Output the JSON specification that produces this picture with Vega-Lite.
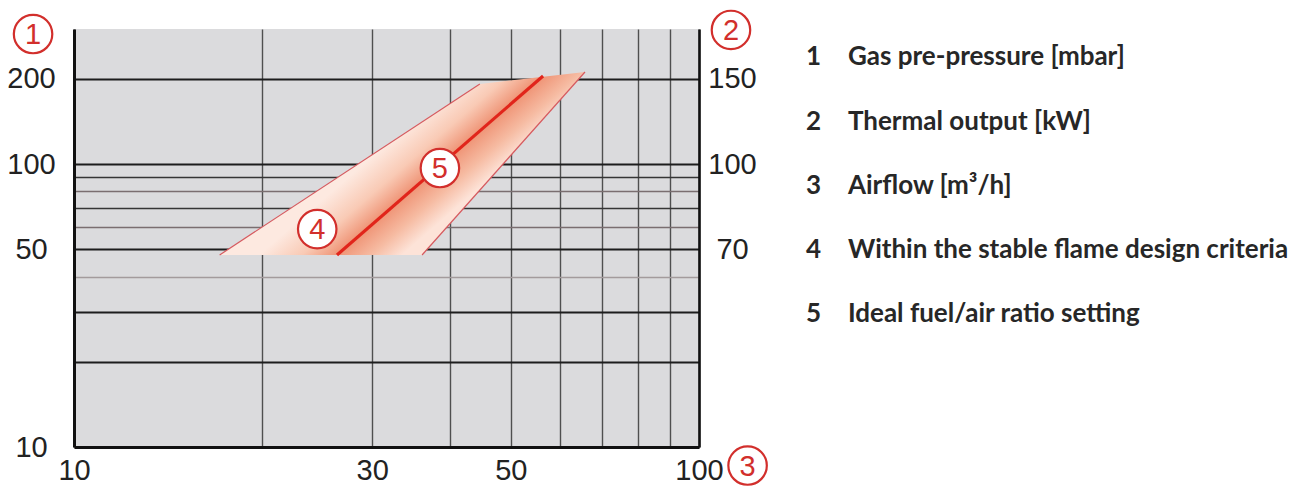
{
  "$schema": "https://vega.github.io/schema/vega-lite/v6.json",
  "width": 625,
  "height": 418,
  "autosize": {"type": "none"},
  "padding": {"left": 74, "top": 29, "right": 606, "bottom": 42},
  "background": "#ffffff",
  "config": {
    "view": {"fill": "#dbdbdd", "stroke": null},
    "axis": {
      "labelFont": "Liberation Sans",
      "labelFontSize": 29,
      "labelColor": "#222222",
      "ticks": false,
      "tickSize": 0,
      "domainColor": "#111111",
      "domainWidth": 3,
      "labelOverlap": false,
      "labelFlush": false
    }
  },
  "datasets": {
    "band": [
      {"side": "left", "airflow": 17.1, "pressure": 47.7, "ord": 1},
      {"side": "left", "airflow": 44.6, "pressure": 191.7, "ord": 2},
      {"side": "right", "airflow": 65.7, "pressure": 211.4, "ord": 3},
      {"side": "right", "airflow": 36.05, "pressure": 47.7, "ord": 4}
    ],
    "ideal": [
      {"airflow": 26.35, "pressure": 47.7},
      {"airflow": 56.3, "pressure": 204.6}
    ],
    "markers": [
      {"n": "1", "airflow": 8.6, "pressure": 288},
      {"n": "2", "airflow": 112.5, "pressure": 297.6},
      {"n": "3", "airflow": 119.6, "pressure": 8.6},
      {"n": "4", "airflow": 24.5, "pressure": 58.9},
      {"n": "5", "airflow": 38.5, "pressure": 96.8}
    ],
    "legend": [
      {"n": "1", "label": "Gas pre-pressure [mbar]", "pressure": 238.8},
      {"n": "2", "label": "Thermal output [kW]", "pressure": 140.8},
      {"n": "3", "label": "Airflow [m³/h]", "pressure": 83.6},
      {"n": "4", "label": "Within the stable flame design criteria", "pressure": 49.7},
      {"n": "5", "label": "Ideal fuel/air ratio setting", "pressure": 29.5}
    ]
  },
  "layer": [
    {
      "data": {"name": "band"},
      "mark": {
        "type": "line",
        "interpolate": "linear-closed",
        "stroke": "transparent",
        "strokeWidth": 0,
        "fill": {
          "gradient": "linear",
          "x1": 0.4429, "y1": 0.4187, "x2": 0.7369, "y2": 0.5885,
          "stops": [
            {"offset": 0, "color": "#fde9e0"},
            {"offset": 0.3, "color": "#f9cab5"},
            {"offset": 0.543, "color": "#ef9476"},
            {"offset": 0.78, "color": "#f6bba2"},
            {"offset": 1, "color": "#fde3d8"}
          ]
        }
      },
      "encoding": {
        "x": {
          "field": "airflow", "type": "quantitative", "title": null,
          "scale": {"type": "log", "domain": [10, 100], "nice": false},
          "axis": {
            "values": [10, 20, 30, 40, 50, 60, 70, 80, 90, 100],
            "grid": true,
            "gridColor": "#4f4f4f",
            "gridWidth": 1.4,
            "labelExpr": "indexof([10,30,50,100], datum.value) >= 0 ? datum.value + '' : ''",
            "labelPadding": 9,
            "labelBaseline": "top"
          }
        },
        "y": {
          "field": "pressure", "type": "quantitative", "title": null,
          "scale": {"type": "log", "domain": [10, 300], "nice": false},
          "axis": {
            "values": [10, 20, 30, 40, 50, 60, 70, 80, 90, 100, 200],
            "grid": true,
            "gridColor": {
              "condition": [
                {"test": "indexof([20,30,50,100,200], datum.value) >= 0", "value": "#1d1d1d"},
                {"test": "datum.value == 90 || datum.value == 70", "value": "#353535"},
                {"test": "datum.value == 40", "value": "#a39b9c"}
              ],
              "value": "#7a6e70"
            },
            "gridWidth": {
              "condition": {"test": "indexof([20,30,50,100,200], datum.value) >= 0", "value": 2.2},
              "value": 1.5
            },
            "labelExpr": "indexof([10,50,100,200], datum.value) >= 0 ? datum.value + '' : ''",
            "labelAlign": "center",
            "labelBaseline": "middle",
            "labelPadding": 43
          }
        },
        "order": {"field": "ord", "type": "quantitative"}
      }
    },
    {
      "data": {"name": "band"},
      "mark": {"type": "line", "color": "#d65a5f", "strokeWidth": 1.2},
      "encoding": {
        "x": {"field": "airflow", "type": "quantitative", "title": null, "scale": {"type": "log", "domain": [10, 100], "nice": false}},
        "y": {
          "field": "pressure", "type": "quantitative", "title": null,
          "scale": {"type": "log", "domain": [10, 300], "nice": false},
          "axis": {
            "orient": "right",
            "values": [50, 100, 200],
            "grid": false,
            "labelExpr": "datum.value == 200 ? '150' : datum.value == 100 ? '100' : '70'",
            "labelAlign": "center",
            "labelBaseline": "middle",
            "labelPadding": 33,
            "domainWidth": 2.6
          }
        },
        "detail": {"field": "side", "type": "nominal"},
        "order": {"field": "ord", "type": "quantitative"}
      }
    },
    {
      "data": {"name": "ideal"},
      "mark": {"type": "line", "color": "#e1251b", "strokeWidth": 3.2},
      "encoding": {
        "x": {"field": "airflow", "type": "quantitative", "title": null, "scale": {"type": "log", "domain": [10, 100], "nice": false}},
        "y": {"field": "pressure", "type": "quantitative", "title": null, "scale": {"type": "log", "domain": [10, 300], "nice": false}, "axis": null}
      }
    },
    {
      "data": {"name": "markers"},
      "mark": {"type": "point", "shape": "circle", "filled": true, "fill": "#ffffff", "stroke": "#d22f2c", "strokeWidth": 2.2, "size": 1480, "opacity": 1},
      "encoding": {
        "x": {"field": "airflow", "type": "quantitative", "title": null, "scale": {"type": "log", "domain": [10, 100], "nice": false}},
        "y": {"field": "pressure", "type": "quantitative", "title": null, "scale": {"type": "log", "domain": [10, 300], "nice": false}, "axis": null}
      }
    },
    {
      "data": {"name": "markers"},
      "mark": {"type": "text", "font": "Liberation Sans", "fontSize": 29, "color": "#d22f2c", "align": "center", "baseline": "middle", "dy": 1},
      "encoding": {
        "x": {"field": "airflow", "type": "quantitative", "title": null, "scale": {"type": "log", "domain": [10, 100], "nice": false}},
        "y": {"field": "pressure", "type": "quantitative", "title": null, "scale": {"type": "log", "domain": [10, 300], "nice": false}, "axis": null},
        "text": {"field": "n", "type": "nominal"}
      }
    },
    {
      "data": {"name": "legend"},
      "mark": {"type": "text", "font": "Lato", "fontWeight": "bold", "fontSize": 26, "color": "#272727", "align": "left", "baseline": "middle"},
      "encoding": {
        "x": {"datum": 148.3, "type": "quantitative", "scale": {"type": "log", "domain": [10, 100], "nice": false}},
        "y": {"field": "pressure", "type": "quantitative", "title": null, "scale": {"type": "log", "domain": [10, 300], "nice": false}, "axis": null},
        "text": {"field": "n", "type": "nominal"}
      }
    },
    {
      "data": {"name": "legend"},
      "mark": {"type": "text", "font": "Lato", "fontWeight": "bold", "fontSize": 26, "color": "#272727", "align": "left", "baseline": "middle"},
      "encoding": {
        "x": {"datum": 173.1, "type": "quantitative", "scale": {"type": "log", "domain": [10, 100], "nice": false}},
        "y": {"field": "pressure", "type": "quantitative", "title": null, "scale": {"type": "log", "domain": [10, 300], "nice": false}, "axis": null},
        "text": {"field": "label", "type": "nominal"}
      }
    }
  ],
  "resolve": {"axis": {"y": "independent"}}
}
